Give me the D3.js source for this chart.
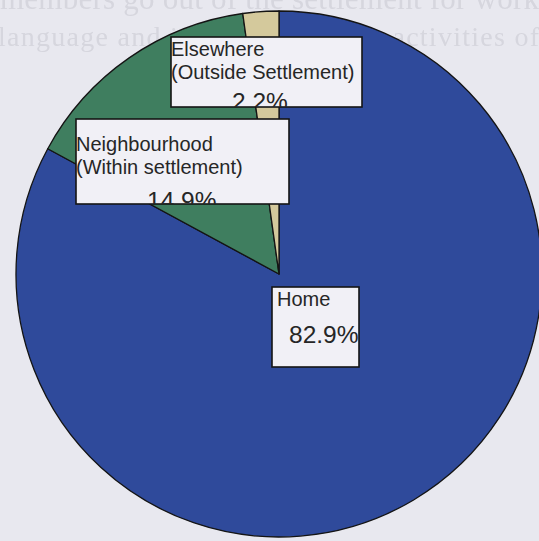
<!DOCTYPE html>
<html>
<head>
<meta charset="utf-8">
<script src="https://cdn.jsdelivr.net/npm/d3@7"></script>
<style>
  html, body { margin: 0; padding: 0; background: #e8e8ef; }
  svg { display: block; }
</style>
</head>
<body>
<svg id="chart" width="539" height="541"></svg>
<script>
// Where time is spent: share of activities by location
const categories = ["Home", "Neighbourhood", "Elsewhere"];
const subtitles = ["", "(Within settlement)", "(Outside Settlement)"];
const shares = [82.9, 14.9, 2.2];
const colors = ["#2f4a9b", "#3f7e5f", "#d4c99c"];

// Label box placement (layout only)
const boxes = [
  { x: 272, y: 287, w: 87,  h: 80, pad: 5, lineY: [306], valueX: 289, valueY: 343 },
  { x: 76,  y: 119, w: 213, h: 85, pad: 0, lineY: [151, 174], valueX: 147, valueY: 209 },
  { x: 171, y: 37,  w: 191, h: 70, pad: 0, lineY: [56, 79], valueX: 232, valueY: 110 }
];

const cx = 279, cy = 274, r = 263;

const svg = d3.select("#chart");
const defs = svg.append("defs");

defs.append("filter").attr("id", "soft")
  .append("feGaussianBlur").attr("stdDeviation", 0.7);

// faint show-through of the printed page behind the chart
const ghost = svg.append("g")
  .attr("font-family", "'Liberation Serif', 'Times New Roman', serif")
  .attr("fill", "#d6d6de")
  .attr("filter", "url(#soft)");
ghost.append("text").attr("x", 0).attr("y", 9).attr("font-size", 31)
  .attr("textLength", 539).text("members go out of the settlement for work");
ghost.append("text").attr("x", -2).attr("y", 46).attr("font-size", 28)
  .attr("textLength", 541).text("language and is affected by the activities of");

const pie = d3.pie().sort(null).value(d => d)(shares);
const arc = d3.arc().innerRadius(0).outerRadius(r);

svg.append("g")
  .attr("transform", `translate(${cx},${cy})`)
  .selectAll("path")
  .data(pie)
  .join("path")
  .attr("d", arc)
  .attr("fill", (d, i) => colors[i])
  .attr("stroke", "#141414")
  .attr("stroke-width", 1.3)
  .attr("stroke-linejoin", "round");

const labels = svg.append("g")
  .attr("font-family", "'Liberation Sans', Arial, sans-serif")
  .attr("fill", "#262626");

categories.forEach((name, i) => {
  const b = boxes[i];
  defs.append("clipPath").attr("id", "clip" + i)
    .append("rect").attr("x", b.x).attr("y", b.y).attr("width", b.w).attr("height", b.h);

  labels.append("rect")
    .attr("x", b.x).attr("y", b.y).attr("width", b.w).attr("height", b.h)
    .attr("fill", "#f1f0f6")
    .attr("stroke", "#151515")
    .attr("stroke-width", 1.6);

  // label text is clipped to its box
  const g = labels.append("g").attr("clip-path", `url(#clip${i})`);
  const lines = subtitles[i] ? [name, subtitles[i]] : [name];
  lines.forEach((t, k) => {
    g.append("text")
      .attr("x", b.x + b.pad)
      .attr("y", b.lineY[k])
      .attr("font-size", 20)
      .text(t);
  });
  g.append("text")
    .attr("x", b.valueX)
    .attr("y", b.valueY)
    .attr("font-size", 24.5)
    .text(d3.format(".1f")(shares[i]) + "%");
});
</script>
</body>
</html>
